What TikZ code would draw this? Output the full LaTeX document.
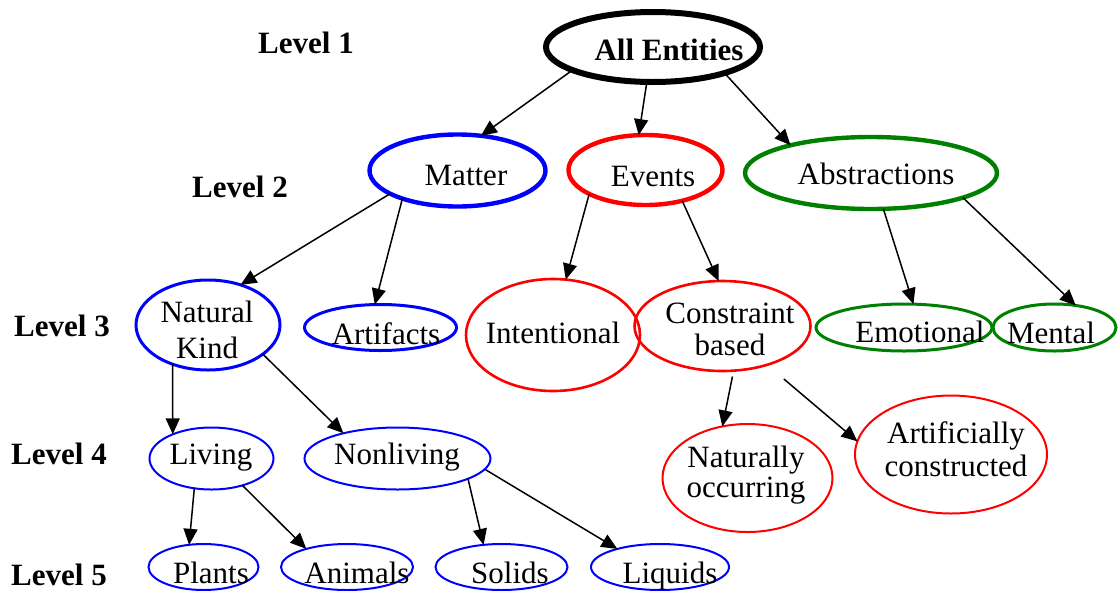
\documentclass[tikz,border=0pt]{standalone}
\usepackage{fontspec}
\setmainfont{Liberation Serif}
\usetikzlibrary{shapes.geometric,arrows.meta}
\definecolor{entblue}{RGB}{0,0,255}
\definecolor{entred}{RGB}{255,0,0}
\definecolor{entgreen}{RGB}{0,128,0}

\begin{document}
\begin{tikzpicture}[x=0.5pt,y=-0.5pt,
  oval/.style 2 args={ellipse, draw, inner sep=0pt, outer sep=0pt,
    minimum width=#1pt, minimum height=#2pt},
  rootoval/.style={line width=3pt, draw=black},
  tiertwo/.style={line width=2.2pt},
  tierthree/.style={line width=1.5pt},
  tierfour/.style={line width=1pt},
  txt/.style={anchor=base, inner sep=0pt, align=center,
    font=\fontsize{15.5}{16.5}\selectfont},
  lvl/.style={txt, font=\fontsize{15.5}{16.5}\selectfont\bfseries},
  arr/.style={line width=0.75pt, -{Triangle[length=8pt,width=7pt]}}
]
\useasboundingbox (0,0) rectangle (1119,590);

% level captions
\node[lvl] (l1) at (306,53) {Level 1};
\node[lvl] (l2) at (240,197) {Level 2};
\node[lvl] (l3) at (62,336) {Level 3};
\node[lvl] (l4) at (59,464) {Level 4};
\node[lvl] (l5) at (59,585) {Level 5};

% ovals
\node[oval={107}{35}, rootoval] (all) at (653,47) {};
\node[oval={88}{36}, tiertwo, draw=entblue] (matter) at (457.5,170.5) {};
\node[oval={77}{35}, tiertwo, draw=entred] (events) at (645.5,170) {};
\node[oval={126}{36}, tiertwo, draw=entgreen] (abstr) at (871,173) {};

\node[oval={72}{45}, tierthree, draw=entblue] (nk) at (208,325) {};
\node[oval={76}{23}, tierthree, draw=entblue] (artif) at (380.5,327.5) {};
\node[oval={87}{56}, line width=1.3pt, draw=entred] (intent) at (553,335) {};
\node[oval={88}{45}, line width=1.3pt, draw=entred] (constr) at (722.5,326) {};
\node[oval={88}{23.5}, tierthree, draw=entgreen] (emot) at (904,327.5) {};
\node[oval={61.5}{23.5}, tierthree, draw=entgreen] (mental) at (1054.5,327.5) {};

\node[oval={62}{31}, tierfour, draw=entblue] (living) at (211.5,458.5) {};
\node[oval={93}{31}, tierfour, draw=entblue] (nonliv) at (397.5,458.5) {};
\node[oval={85}{54}, tierfour, draw=entred] (natocc) at (747.5,478) {};
\node[oval={96}{59}, tierfour, draw=entred] (artcon) at (951,454.5) {};

\node[oval={55}{23}, tierfour, draw=entblue] (plants) at (203.5,567) {};
\node[oval={66}{23}, tierfour, draw=entblue] (animals) at (347,567) {};
\node[oval={66}{23}, tierfour, draw=entblue] (solids) at (501.5,567) {};
\node[oval={69}{23}, tierfour, draw=entblue] (liquids) at (660,567) {};

% oval texts (two-line texts are placed by the baseline of their last line)
\node[txt, font=\fontsize{15.5}{16.5}\selectfont\bfseries] (allt) at (669,60) {All Entities};
\node[txt] (mattert) at (466,185) {Matter};
\node[txt] (eventst) at (653,186) {Events};
\node[txt] (abstrt) at (876,184) {Abstractions};
\node[txt, font=\fontsize{15.5}{18}\selectfont] (nkt) at (207,358) {Natural\\Kind};
\node[txt] (artift) at (386,344) {Artifacts};
\node[txt] (intentt) at (553,343) {Intentional};
\node[txt, font=\fontsize{15.5}{16}\selectfont] (constrt) at (730,355) {Constraint\\based};
\node[txt] (emott) at (920,342) {Emotional};
\node[txt] (mentalt) at (1051,343) {Mental};
\node[txt] (livingt) at (211,464) {Living};
\node[txt] (nonlivt) at (397,464) {Nonliving};
\node[txt, font=\fontsize{15.5}{15}\selectfont] (natocct) at (746,497) {Naturally\\occurring};
\node[txt, font=\fontsize{15.5}{16.5}\selectfont] (artcont) at (956,476) {Artificially\\constructed};
\node[txt] (plantst) at (211,583) {Plants};
\node[txt] (animalst) at (357,583) {Animals};
\node[txt] (solidst) at (510,583) {Solids};
\node[txt] (liquidst) at (670,583) {Liquids};

% connectors
\draw[arr] (all.196) -- (matter.56);
\draw[arr] (all.260) -- (events.101);
\draw[arr] (all.340) -- (abstr.161);
\draw[arr] (matter.199) -- (nk.51);
\draw[arr] (matter.207) -- (artif.104);
\draw[arr] (events.203) -- (intent.77);
\draw[arr] (events.320) -- (constr.95);
\draw[arr] (abstr.289) -- (emot.68);
\draw[arr] (abstr.345) -- (mental.46);
\draw[arr] (nk.228) -- (living.148);
\draw[arr] (nk.332) -- (nonliv.155);
\draw[arr] (living.240) -- (plants.123);
\draw[arr] (living.319) -- (animals.156);
\draw[arr] (nonliv.344) -- (solids.129);
\draw[arr] (nonliv.353) -- (liquids.157);
\draw[arr, shorten <=3pt] (constr.284) -- (natocc.116);
\draw[arr, shorten <=11pt] (constr.319) -- (artcon.172);
\end{tikzpicture}
\end{document}
